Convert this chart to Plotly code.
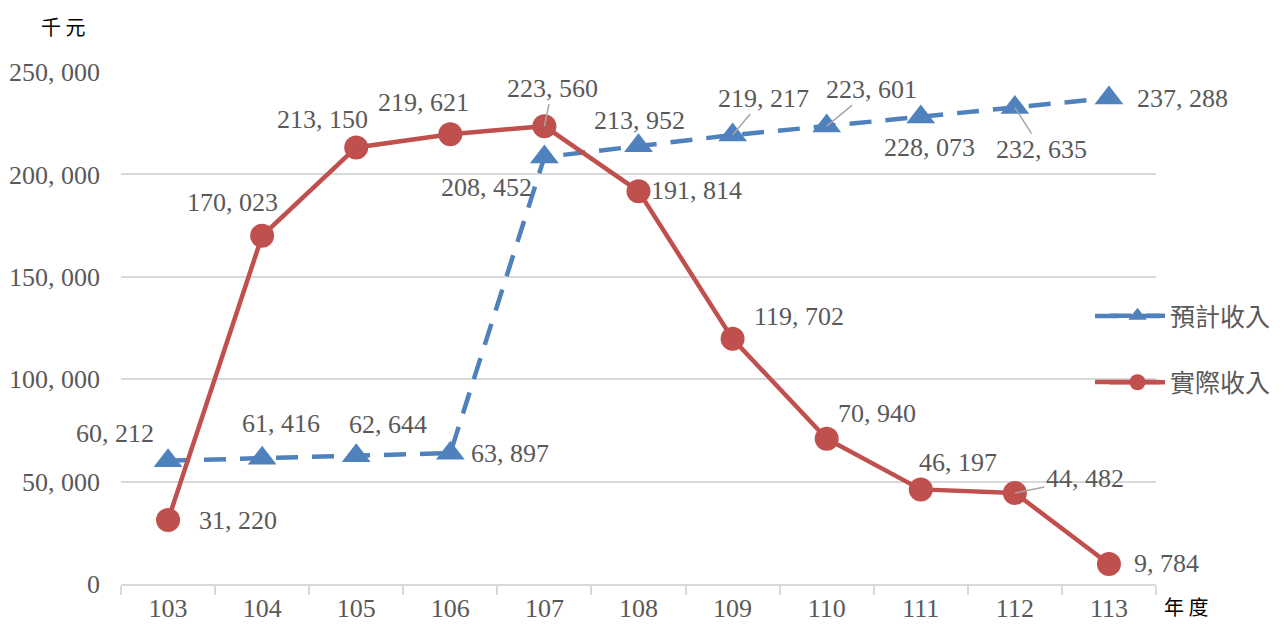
import plotly.graph_objects as go

years = ["103", "104", "105", "106", "107", "108", "109", "110", "111", "112", "113"]
planned = [60212, 61416, 62644, 63897, 208452, 213952, 219217, 223601, 228073, 232635, 237288]
actual = [31220, 170023, 213150, 219621, 223560, 191814, 119702, 70940, 46197, 44482, 9784]
planned_name = "預計收入"
actual_name = "實際收入"
y_ticks = [0, 50000, 100000, 150000, 200000, 250000]

BLUE = "#4F81BD"
RED = "#C0504D"
GREY = "#595959"
GRID = "#D9D9D9"
NUMFONT = "Liberation Serif"
CJK = "Noto Sans CJK TC"
NUMSIZE = 26

# label offsets (pixels, dx right, dy down) and whether a leader line is drawn
planned_off = [(-53, -27, 0), (19, -35, 0), (32, -31, 0), (60, 0, 0), (-58, 30, 0), (1, -25, 0),
               (31, -37, 1), (45, -37, 1), (9, 31, 0), (27, 42, 1), (74, 0, 0)]
actual_off = [(70, 0, 0), (-30, -33, 0), (-34, -28, 0), (-27, -32, 0), (8, -38, 1), (58, -1, 0),
              (66, -22, 0), (50, -25, 0), (37, -27, 0), (70, -14, 1), (58, 0, 0)]


def fmt(v):
    return f"{v:,}".replace(",", ", ")


# page offset (browser body margin)
OFF = 8
W, H = 1288 - OFF, 624 - OFF
L, T = 121 - OFF, 72 - OFF
R = W - (1156 - OFF)
B = H - (584 - OFF)
pw, ph = W - L - R, H - T - B


def px(xp):
    return (xp - OFF - L) / pw


def py(yp):
    return (H - B - (yp - OFF)) / ph


fig = go.Figure()
fig.add_trace(go.Scatter(
    x=years, y=planned, name=planned_name, mode="lines+markers",
    line=dict(color=BLUE, width=4.5, dash="22px,14px"),
    marker=dict(symbol="triangle-up", size=25, color=BLUE),
    legendgroup="a", cliponaxis=False,
))
fig.add_trace(go.Scatter(
    x=years, y=actual, name=actual_name, mode="lines+markers",
    line=dict(color=RED, width=4.5),
    marker=dict(symbol="circle", size=24, color=RED),
    legendgroup="b", cliponaxis=False,
))

annotations = []
for series, offs in ((planned, planned_off), (actual, actual_off)):
    for i, (v, (dx, dy, lead)) in enumerate(zip(series, offs)):
        if lead:
            annotations.append(dict(
                x=i, y=v, xref="x", yref="y", text=fmt(v), showarrow=True,
                ax=dx, ay=dy, arrowhead=0, arrowwidth=1.5, arrowcolor="#A6A6A6",
                font=dict(family=NUMFONT, size=NUMSIZE, color=GREY),
            ))
        else:
            annotations.append(dict(
                x=i, y=v, xref="x", yref="y", text=fmt(v), showarrow=False,
                xshift=dx, yshift=-dy,
                font=dict(family=NUMFONT, size=NUMSIZE, color=GREY),
            ))

annotations.append(dict(x=px(63), y=py(26), xref="paper", yref="paper", text="千 元", showarrow=False,
                        xanchor="center", yanchor="middle", borderpad=0,
                        font=dict(family=CJK, size=20, color="black")))
annotations.append(dict(x=px(1186), y=py(606), xref="paper", yref="paper", text="年 度", showarrow=False,
                        xanchor="center", yanchor="middle", borderpad=0,
                        font=dict(family=CJK, size=20, color="black")))

# extend legend sample lines to the reference's longer length
shapes = [
    dict(type="line", xref="paper", yref="paper", x0=px(1095), x1=px(1118), y0=py(316), y1=py(316),
         line=dict(color=BLUE, width=4.5)),
    dict(type="line", xref="paper", yref="paper", x0=px(1136), x1=px(1160), y0=py(316), y1=py(316),
         line=dict(color=BLUE, width=4.5)),
    dict(type="line", xref="paper", yref="paper", x0=px(1095), x1=px(1160), y0=py(382), y1=py(382),
         line=dict(color=RED, width=4.5)),
]

fig.update_layout(
    width=W, height=H,
    margin=dict(l=L, r=R, t=T, b=B, autoexpand=False),
    paper_bgcolor="white", plot_bgcolor="white",
    showlegend=True,
    legend=dict(x=px(1105), y=py(293), xanchor="left", yanchor="top",
                font=dict(family=CJK, size=25, color=GREY), tracegroupgap=31,
                itemwidth=55, bgcolor="rgba(0,0,0,0)"),
    annotations=annotations,
    shapes=shapes,
    xaxis=dict(type="category", tickson="boundaries", ticks="outside", ticklen=9,
               tickcolor=GRID, tickwidth=1.5, showline=True, linecolor=GRID, linewidth=1.5,
               showgrid=False, tickfont=dict(family=NUMFONT, size=NUMSIZE, color=GREY),
               range=[-0.5, 10.5], automargin=False),
    yaxis=dict(range=[0, 250000], tickvals=y_ticks, ticktext=[fmt(v) for v in y_ticks],
               showgrid=True, gridcolor=GRID, gridwidth=1.5, zeroline=False, showline=False,
               ticks="", ticklabelstandoff=20, automargin=False,
               tickfont=dict(family=NUMFONT, size=NUMSIZE, color=GREY)),
)

fig.write_html("out.html")
